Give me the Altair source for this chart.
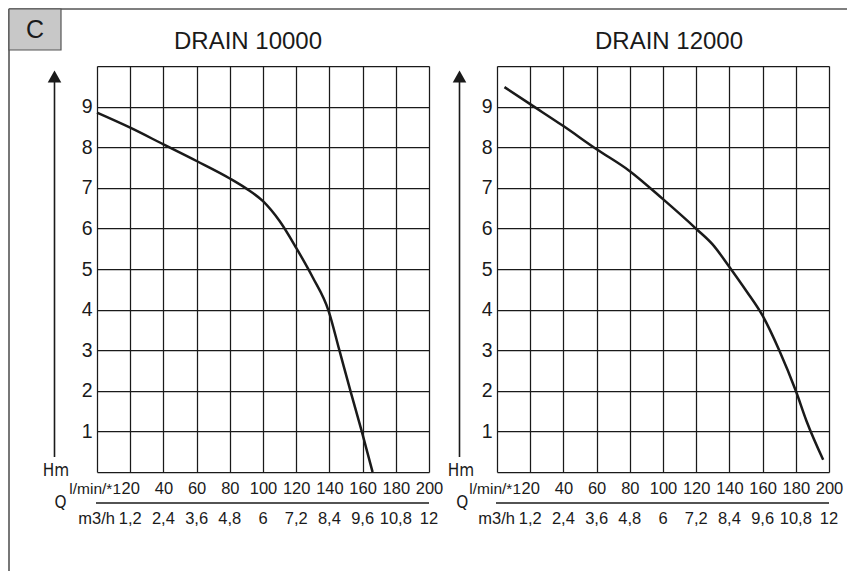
import altair as alt
import pandas as pd

# ---------------- data ----------------
Q_TICKS = [0, 20, 40, 60, 80, 100, 120, 140, 160, 180, 200]
H_TICKS = [0, 1, 2, 3, 4, 5, 6, 7, 8, 9, 10]
M3H_POS = [20, 40, 60, 80, 100, 120, 140, 160, 180, 200]
M3H_LABELS = ["1,2", "2,4", "3,6", "4,8", "6", "7,2", "8,4", "9,6", "10,8", "12"]

Q_10000 = [0, 20, 40, 60, 80, 90, 100, 110, 120, 130, 139.5, 146, 153, 159.5, 166]
H_10000 = [8.85, 8.48, 8.07, 7.66, 7.23, 6.98, 6.67, 6.18, 5.52, 4.79, 3.97, 3.0, 1.95, 1.0, 0.0]

Q_12000 = [4.5, 20, 40, 60, 80, 100, 120, 130, 140, 150, 160, 170, 180, 186.5, 196.5]
H_12000 = [9.48, 9.06, 8.52, 7.95, 7.41, 6.72, 5.99, 5.6, 5.05, 4.47, 3.85, 3.0, 2.0, 1.25, 0.3]

TITLES = ["DRAIN 10000", "DRAIN 12000"]
BADGE = "C"
Y_UNIT = "Hm"
Q_NAME = "Q"
UNIT_LMIN = "l/min/*1"
UNIT_M3H = "m3/h"

# ---------------- style ----------------
W, HT = 332, 406
FONT = "Liberation Sans"
NARROW = "Liberation Sans Narrow, DejaVu Sans Condensed, Liberation Sans"
INK = "#1a1a1a"
FRAME = "#555555"

one = pd.DataFrame({"k": [0]})


def txt(s, x, y, size, align="center", font=FONT):
    return alt.Chart(pd.DataFrame({"t": [s]})).mark_text(
        font=font, fontSize=size, color=INK, align=align, baseline="middle"
    ).encode(x=alt.value(x), y=alt.value(y), text="t:N")


def x_axis():
    return alt.Axis(
        values=Q_TICKS, labelExpr="datum.value == 0 ? '' : datum.label",
        grid=True, gridColor=INK, gridWidth=1.25, gridOpacity=1,
        ticks=False, domain=False, labelFont=FONT, labelFontSize=16.5,
        labelColor=INK, labelPadding=8, labelOverlap=False, labelFlush=False,
        title=None)


def panel(title, qs, hs, title_x, arrow_x, hm_x, q_x, frame=False):
    xs = alt.Scale(domain=[0, 200], nice=False, zero=False)
    ys = alt.Scale(domain=[0, 10], nice=False)
    curve = pd.DataFrame({"Q": qs, "H": hs})

    line = alt.Chart(curve).mark_line(
        color=INK, strokeWidth=2.5, interpolate="monotone"
    ).encode(
        x=alt.X("Q:Q", scale=xs, axis=x_axis()),
        y=alt.Y("H:Q", scale=ys, axis=alt.Axis(
            values=H_TICKS,
            labelExpr="(datum.value == 0 || datum.value == 10) ? '' : datum.label",
            grid=True, gridColor=INK, gridWidth=1.25, gridOpacity=1,
            ticks=False, domain=False, labelFont=FONT, labelFontSize=19.5,
            labelColor=INK, labelPadding=5, labelOverlap=False, labelFlush=False,
            title=None)),
    )

    m3h = alt.Chart(pd.DataFrame({"Q": M3H_POS, "lab": M3H_LABELS})).mark_text(
        font=FONT, fontSize=16.5, color=INK, baseline="middle"
    ).encode(
        x=alt.X("Q:Q", scale=xs, axis=x_axis()),
        y=alt.value(452.5),
        text="lab:N",
    )

    arrow_line = alt.Chart(one).mark_rule(color=INK, strokeWidth=1.6).encode(
        x=alt.value(arrow_x), y=alt.value(14), y2=alt.value(391))
    arrow_head = alt.Chart(one).mark_point(
        shape="triangle-up", filled=True, color=INK, opacity=1, size=185
    ).encode(x=alt.value(arrow_x), y=alt.value(10.5))
    under = alt.Chart(one).mark_rule(color=INK, strokeWidth=1.3).encode(
        x=alt.value(-1), x2=alt.value(W), y=alt.value(437))

    layers = []
    if frame:
        layers += [
            alt.Chart(one).mark_rule(color=FRAME, strokeWidth=1.6).encode(
                x=alt.value(-88), x2=alt.value(750), y=alt.value(-57)),
            alt.Chart(one).mark_rule(color=FRAME, strokeWidth=1.6).encode(
                x=alt.value(-88), y=alt.value(-57), y2=alt.value(505)),
            alt.Chart(one).mark_rect(fill="#c8c8c8", stroke=FRAME, strokeWidth=1.2).encode(
                x=alt.value(-88), x2=alt.value(-36), y=alt.value(-57), y2=alt.value(-16)),
            txt(BADGE, -62, -36, 25),
        ]
    layers += [
        line, m3h, arrow_line, arrow_head, under,
        txt(title, title_x, -24, 24),
        txt(Y_UNIT, hm_x, 405, 17, font=NARROW),
        txt(Q_NAME, q_x, 436.5, 17, font=NARROW),
        txt(UNIT_LMIN, 24, 422.5, 15.5, align="right"),
        txt(UNIT_M3H, 18, 452.5, 16.5, align="right"),
    ]
    return alt.layer(*layers).properties(width=W, height=HT)


left = panel(TITLES[0], Q_10000, H_10000, 151, -42.5, -41, -36.5, frame=True)
right = panel(TITLES[1], Q_12000, H_12000, 172, -37.5, -36, -34.7)

chart = alt.hconcat(left, right, spacing=68, bounds="flush").properties(
    padding=0, background="white"
).configure_view(stroke=None)

chart.save("out.html", embed_options={"renderer": "svg", "actions": False})
